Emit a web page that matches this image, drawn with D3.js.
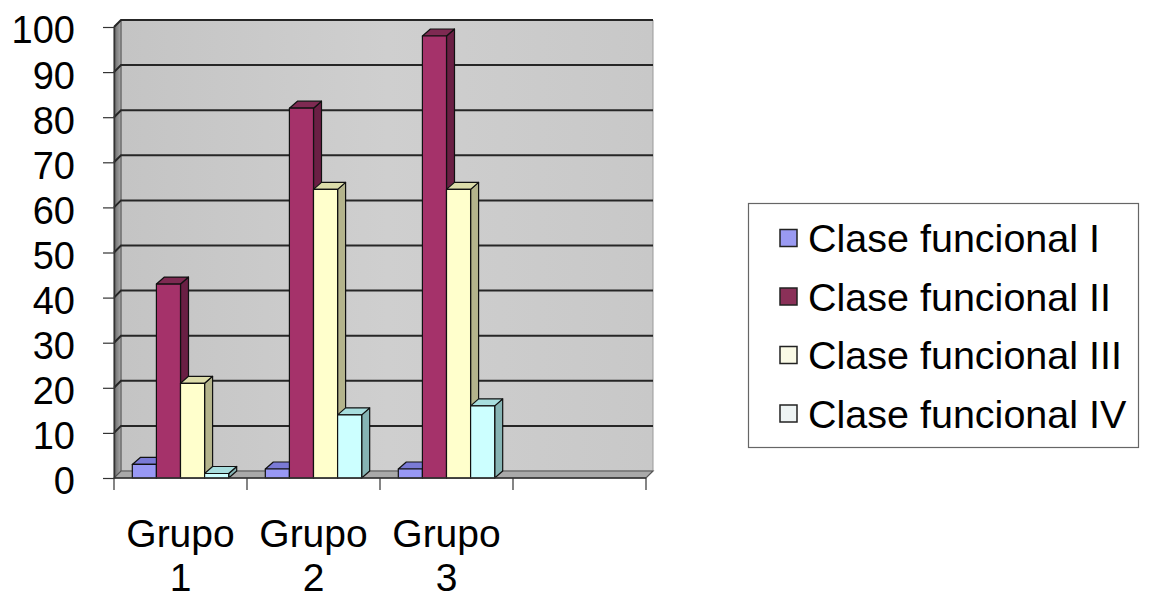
<!DOCTYPE html>
<html>
<head>
<meta charset="utf-8">
<script src="https://cdn.jsdelivr.net/npm/d3@7"></script>
<style>
  body { margin: 0; background: #ffffff; }
  svg { display: block; }
  text { font-family: "Liberation Sans", Arial, sans-serif; fill: #000; }
</style>
</head>
<body>
<svg id="chart" width="1154" height="600"></svg>
<script>
// Category slots on the x axis (the last slot is left empty)
const categories = ["Grupo 1", "Grupo 2", "Grupo 3", ""];
const seriesNames = ["Clase funcional I", "Clase funcional II", "Clase funcional III", "Clase funcional IV"];

// Values per series, one entry per group
const claseI   = [3, 2, 2];
const claseII  = [43, 82, 98];
const claseIII = [21, 64, 64];
const claseIV  = [1, 14, 16];

const yTicks = [0, 10, 20, 30, 40, 50, 60, 70, 80, 90, 100];

const seriesValues = [claseI, claseII, claseIII, claseIV];

// front / side / top shades for each series
const frontColors = ["#9898f4", "#a5326a", "#ffffcc", "#ccffff"];
const sideColors  = ["#6060b0", "#6a1f44", "#b4b48c", "#86b4b4"];
const topColors   = ["#7a7ad6", "#7e2a52", "#dcdcaa", "#a8dede"];
const legendColors = ["#9a9af2", "#8a3058", "#fafae6", "#eef4f4"];

const svg = d3.select("#chart");

const x0 = d3.scaleBand().domain(categories).range([114, 646]).padding(0);
const x1 = d3.scaleBand().domain(seriesNames).range([0, x0.bandwidth()])
  .paddingInner(0).paddingOuter(0.76);
const y = d3.scaleLinear().domain([0, 100]).range([478, 27]);

// depth of the walls and of the columns
const wd = { dx: 7, dy: -7 };
const bd = { dx: 8, dy: -7 };

const xLeft = x0.range()[0], xRight = x0.range()[1];
const yBase = y(0), yTop = y(100);

const defs = svg.append("defs");
const wallGrad = defs.append("linearGradient").attr("id", "wallGrad")
  .attr("x1", 0).attr("y1", 0).attr("x2", 1).attr("y2", 0);
wallGrad.append("stop").attr("offset", "0").attr("stop-color", "#c4c4c4");
wallGrad.append("stop").attr("offset", "0.5").attr("stop-color", "#cfcfcf");
wallGrad.append("stop").attr("offset", "1").attr("stop-color", "#c8c8c8");

const sideGrad = defs.append("linearGradient").attr("id", "sideGrad")
  .attr("x1", 0).attr("y1", 0).attr("x2", 1).attr("y2", 0);
sideGrad.append("stop").attr("offset", "0").attr("stop-color", "#6a6a6a");
sideGrad.append("stop").attr("offset", "1").attr("stop-color", "#a8a8a8");

const poly = pts => pts.map(p => p.join(",")).join(" ");

// back wall
svg.append("polygon")
  .attr("points", poly([[xLeft + wd.dx, yTop + wd.dy], [xRight + wd.dx, yTop + wd.dy],
                        [xRight + wd.dx, yBase + wd.dy], [xLeft + wd.dx, yBase + wd.dy]]))
  .attr("fill", "url(#wallGrad)").attr("stroke", "#9a9a9a").attr("stroke-width", 1);
svg.append("line")
  .attr("x1", xLeft + wd.dx).attr("x2", xRight + wd.dx)
  .attr("y1", yTop + wd.dy).attr("y2", yTop + wd.dy)
  .attr("stroke", "#444").attr("stroke-width", 2);

// side wall
svg.append("polygon")
  .attr("points", poly([[xLeft, yBase], [xLeft + wd.dx, yBase + wd.dy],
                        [xLeft + wd.dx, yTop + wd.dy], [xLeft, yTop]]))
  .attr("fill", "url(#sideGrad)").attr("stroke", "#555").attr("stroke-width", 1);

// floor
svg.append("polygon")
  .attr("points", poly([[xLeft, yBase], [xRight, yBase],
                        [xRight + wd.dx, yBase + wd.dy], [xLeft + wd.dx, yBase + wd.dy]]))
  .attr("fill", "#a9a9a9").attr("stroke", "#555").attr("stroke-width", 1.2);

// gridlines along side wall and back wall
const grid = svg.append("g");
yTicks.filter(t => t > 0).forEach(t => {
  grid.append("polyline")
    .attr("points", poly([[xLeft, y(t)], [xLeft + wd.dx, y(t) + wd.dy], [xRight + wd.dx, y(t) + wd.dy]]))
    .attr("fill", "none").attr("stroke", "#262626").attr("stroke-width", 2);
});

// columns
const bars = svg.append("g").attr("stroke", "#111").attr("stroke-width", 1.2)
  .attr("stroke-linejoin", "round");
categories.forEach((cat, i) => {
  seriesNames.forEach((name, j) => {
    const v = seriesValues[j][i];
    if (v === undefined) return;
    const xl = x0(cat) + x1(name);
    const w = x1.bandwidth();
    const yv = y(v);
    const g = bars.append("g");
    g.append("polygon")
      .attr("points", poly([[xl + w, yv], [xl + w + bd.dx, yv + bd.dy],
                            [xl + w + bd.dx, yBase + bd.dy], [xl + w, yBase]]))
      .attr("fill", sideColors[j]);
    g.append("polygon")
      .attr("points", poly([[xl, yv], [xl + bd.dx, yv + bd.dy],
                            [xl + w + bd.dx, yv + bd.dy], [xl + w, yv]]))
      .attr("fill", topColors[j]);
    g.append("rect")
      .attr("x", xl).attr("y", yv).attr("width", w).attr("height", yBase - yv)
      .attr("fill", frontColors[j]);
  });
});

// value axis
const yAxis = d3.axisLeft(y).tickValues(yTicks).tickSize(11).tickSizeOuter(0).tickPadding(28);
const gy = svg.append("g").attr("transform", `translate(${xLeft},0)`).call(yAxis);
gy.select(".domain").attr("stroke", "#333").attr("stroke-width", 1.5);
gy.selectAll(".tick line").attr("stroke", "#333").attr("stroke-width", 1.2);
gy.selectAll(".tick text")
  .attr("font-size", 38).attr("dy", "0.42em")
  .style("font-family", '"Liberation Sans", Arial, sans-serif').attr("fill", "#000");

// category axis: line and slot boundaries
const gx = svg.append("g");
gx.append("line").attr("x1", xLeft).attr("x2", xRight).attr("y1", yBase).attr("y2", yBase)
  .attr("stroke", "#333").attr("stroke-width", 1.5);
const bounds = categories.map(c => x0(c)).concat([xRight]);
gx.selectAll("line.tk").data(bounds).join("line").attr("class", "tk")
  .attr("x1", d => d).attr("x2", d => d).attr("y1", yBase).attr("y2", yBase + 12)
  .attr("stroke", "#333").attr("stroke-width", 1.2);

gx.selectAll("text.cat").data(categories.filter(c => c !== "")).join("text")
  .attr("class", "cat")
  .attr("text-anchor", "middle")
  .attr("font-size", 39)
  .each(function (c) {
    const cx = x0(c) + x0.bandwidth() / 2;
    const parts = c.split(" ");
    const t = d3.select(this);
    t.append("tspan").attr("x", cx).attr("y", 547).text(parts[0]);
    t.append("tspan").attr("x", cx).attr("y", 591).text(parts[1]);
  });

// legend
const legend = svg.append("g");
legend.append("rect").attr("x", 748.5).attr("y", 203.5).attr("width", 390).attr("height", 244)
  .attr("fill", "#fff").attr("stroke", "#666").attr("stroke-width", 1.2);
const items = legend.selectAll("g.item").data(seriesNames).join("g").attr("class", "item")
  .attr("transform", (d, i) => `translate(0,${238 + i * 58.5})`);
items.append("rect").attr("x", 780).attr("y", -8.5).attr("width", 17).attr("height", 17)
  .attr("fill", (d, i) => legendColors[i]).attr("stroke", "#222").attr("stroke-width", 1.5);
items.append("text").attr("x", 808).attr("y", 14).attr("font-size", 39.5).text(d => d);
</script>
</body>
</html>
